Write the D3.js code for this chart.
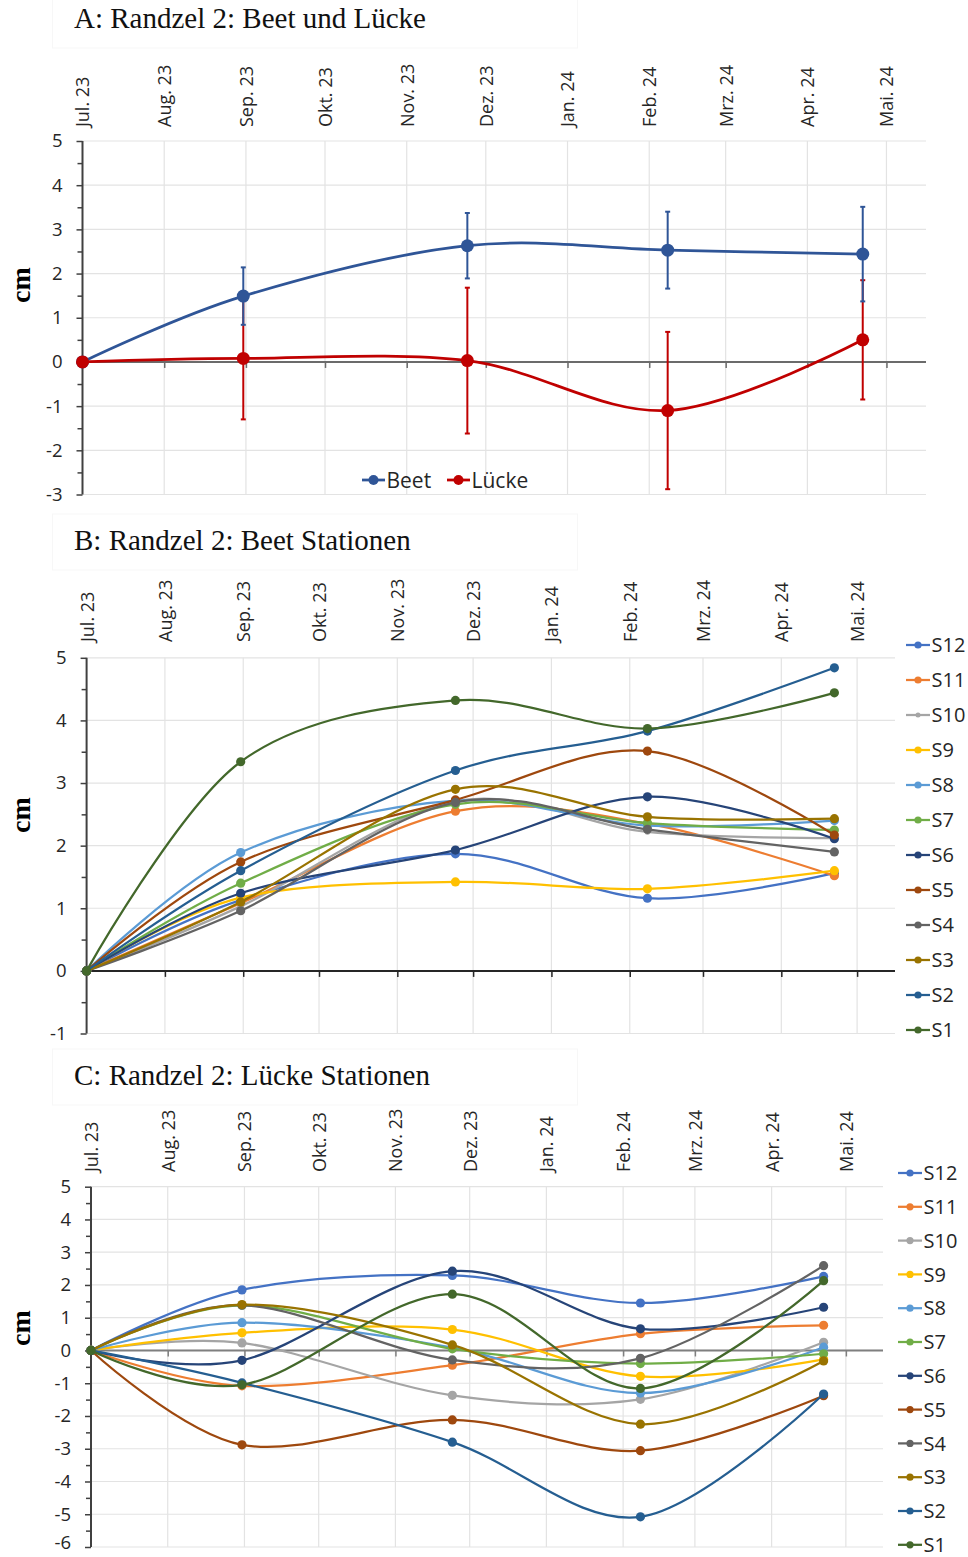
<!DOCTYPE html>
<html>
<head>
<meta charset="utf-8">
<script src="https://cdn.jsdelivr.net/npm/d3@7"></script>
<style>
  html, body { margin: 0; padding: 0; background: #fff; }
  svg { display: block; }
</style>
</head>
<body>
<svg id="chart" width="968" height="1557"></svg>
<script>
// ---------------- DATA ----------------
const measureDates = ["2023-07-01", "2023-08-31", "2023-11-24", "2024-02-08", "2024-04-22"];
const monthTickLabels = ["Jul. 23", "Aug. 23", "Sep. 23", "Okt. 23", "Nov. 23", "Dez. 23",
                         "Jan. 24", "Feb. 24", "Mrz. 24", "Apr. 24", "Mai. 24"];
const axisStart = "2023-07-01";
const axisEnd = "2024-05-16";

// Panel A
const beetMean   = [0, 1.49, 2.63, 2.53, 2.44];
const beetErr    = [0, 0.65, 0.74, 0.87, 1.07];
const lueckeMean = [0, 0.08, 0.03, -1.10, 0.50];
const lueckeErr  = [0, 1.38, 1.65, 1.78, 1.35];
const yTicksA = [-3, -2, -1, 0, 1, 2, 3, 4, 5];

// Stations (legend order, top to bottom)
const stations = ["S12", "S11", "S10", "S9", "S8", "S7", "S6", "S5", "S4", "S3", "S2", "S1"];
const stationColors = ["#4472C4", "#ED7D31", "#A5A5A5", "#FFC000", "#5B9BD5", "#70AD47",
                       "#264478", "#9E480E", "#636363", "#997300", "#255E91", "#43682B"];

// Panel B: Beet Stationen
const beetS12 = [0, 1.13, 1.87, 1.16, 1.56];
const beetS11 = [0, 1.08, 2.55, 2.35, 1.52];
const beetS10 = [0, 1.03, 2.71, 2.22, 2.12];
const beetS9  = [0, 1.17, 1.42, 1.31, 1.60];
const beetS8  = [0, 1.89, 2.72, 2.32, 2.40];
const beetS7  = [0, 1.40, 2.66, 2.36, 2.25];
const beetS6  = [0, 1.24, 1.93, 2.78, 2.11];
const beetS5  = [0, 1.74, 2.73, 3.51, 2.17];
const beetS4  = [0, 0.96, 2.69, 2.26, 1.90];
const beetS3  = [0, 1.10, 2.90, 2.46, 2.43];
const beetS2  = [0, 1.60, 3.20, 3.83, 4.84];
const beetS1  = [0, 3.34, 4.32, 3.87, 4.44];
const yTicksB = [-1, 0, 1, 2, 3, 4, 5];

// Panel C: Lücke Stationen
const lueckeS12 = [0, 1.85, 2.29, 1.45, 2.26];
const lueckeS11 = [0, -1.08, -0.45, 0.51, 0.77];
const lueckeS10 = [0, 0.23, -1.37, -1.49, 0.25];
const lueckeS9  = [0, 0.54, 0.64, -0.79, -0.27];
const lueckeS8  = [0, 0.85, 0.09, -1.30, 0.10];
const lueckeS7  = [0, 1.38, 0.05, -0.40, -0.10];
const lueckeS6  = [0, -0.30, 2.42, 0.66, 1.32];
const lueckeS5  = [0, -2.88, -2.12, -3.06, -1.38];
const lueckeS4  = [0, 1.38, -0.29, -0.24, 2.59];
const lueckeS3  = [0, 1.40, 0.17, -2.25, -0.32];
const lueckeS2  = [0, -0.99, -2.80, -5.08, -1.33];
const lueckeS1  = [0, -1.05, 1.72, -1.16, 2.13];
const yTicksC = [-6, -5, -4, -3, -2, -1, 0, 1, 2, 3, 4, 5];

const beetStationValues = [beetS12, beetS11, beetS10, beetS9, beetS8, beetS7, beetS6, beetS5, beetS4, beetS3, beetS2, beetS1];
const lueckeStationValues = [lueckeS12, lueckeS11, lueckeS10, lueckeS9, lueckeS8, lueckeS7, lueckeS6, lueckeS5, lueckeS4, lueckeS3, lueckeS2, lueckeS1];

// ---------------- HELPERS ----------------
const parse = d3.utcParse("%Y-%m-%d");
const dates = measureDates.map(parse);
const monthTicks = d3.utcMonth.range(parse(axisStart), d3.utcDay.offset(parse("2024-05-01"), 1));
const svg = d3.select("#chart");
const SANS = "'Open Sans', 'DejaVu Sans', sans-serif";
const SERIF = "'Liberation Serif', 'Times New Roman', serif";
const curve = d3.curveCardinal.tension(0);

function panel(cfg) {
  const g = svg.append("g");
  const x = d3.scaleUtc().domain([parse(axisStart), parse(axisEnd)]).range([cfg.left, cfg.right]);
  const y = d3.scaleLinear().domain(cfg.yDomain).range([cfg.yBottom, cfg.yTop]);

  // faint title box
  g.append("rect").attr("x", 52.5).attr("y", cfg.titleY - 36).attr("width", 525).attr("height", 56)
    .attr("fill", "none").attr("stroke", "#f7f7f7").attr("stroke-width", 1);

  // title
  g.append("text").attr("x", 74).attr("y", cfg.titleY)
    .attr("font-family", SERIF).attr("font-size", 29).attr("fill", "#111")
    .text(cfg.title);

  // y title
  g.append("text")
    .attr("transform", `translate(20,${cfg.cmY}) rotate(-90)`)
    .attr("text-anchor", "middle").attr("dominant-baseline", "central")
    .attr("font-family", SERIF).attr("font-weight", "bold").attr("font-size", 28)
    .attr("fill", "#000").text("cm");

  // gridlines
  const grid = g.append("g");
  grid.selectAll("line.h").data(cfg.yTicks).join("line")
    .attr("x1", cfg.left).attr("x2", cfg.right)
    .attr("y1", d => y(d)).attr("y2", d => y(d))
    .attr("stroke", "#e3e3e3").attr("stroke-width", 1.2);
  grid.selectAll("line.v").data(monthTicks.slice(1)).join("line")
    .attr("x1", d => x(d)).attr("x2", d => x(d))
    .attr("y1", y(cfg.yDomain[1])).attr("y2", y(cfg.yDomain[0]))
    .attr("stroke", "#e3e3e3").attr("stroke-width", 1.2);

  // top month labels
  const topAxis = g.append("g").attr("transform", `translate(0,${cfg.labelsBottom})`)
    .call(d3.axisTop(x).tickValues(monthTicks).tickSize(0).tickFormat((d, i) => monthTickLabels[i]));
  topAxis.select(".domain").remove();
  topAxis.selectAll("text")
    .attr("transform", "rotate(-90)")
    .attr("x", 0).attr("y", 0).attr("dy", "0.36em")
    .attr("text-anchor", "start")
    .attr("font-family", SANS).attr("font-size", 18).attr("fill", "#262626");

  // zero line with ticks
  const zeroAxis = g.append("g").attr("transform", `translate(0,${y(0)})`)
    .call(d3.axisBottom(x).tickValues(monthTicks.slice(1)).tickSize(6).tickFormat(""));
  zeroAxis.select(".domain").attr("d", `M${cfg.left},0H${cfg.right}`)
    .attr("stroke", cfg.zeroColor).attr("stroke-width", 2);
  zeroAxis.selectAll(".tick line").attr("stroke", cfg.zeroColor).attr("stroke-width", 1.5);

  // y axis
  const yAxis = g.append("g").attr("transform", `translate(${cfg.left},0)`)
    .call(d3.axisLeft(y).tickValues(cfg.yTicks).tickSize(6).tickPadding(14).tickFormat(d => String(d)));
  yAxis.select(".domain").attr("d", `M0,${y(cfg.yDomain[1])}V${y(cfg.yDomain[0])}`)
    .attr("stroke", "#404040").attr("stroke-width", 2);
  yAxis.selectAll(".tick line").attr("stroke", "#404040").attr("stroke-width", 1.5);
  yAxis.selectAll("text").attr("font-family", SANS).attr("font-size", 18.5).attr("fill", "#262626");
  // keep the lowest label inside the page
  yAxis.selectAll(".tick text").filter(d => d === cfg.yDomain[0]).attr("dy", cfg.bottomLabelDy || "0.32em");
  const halves = cfg.yTicks.slice(0, -1).map(d => d + 0.5);
  const minor = g.append("g").attr("transform", `translate(${cfg.left},0)`)
    .call(d3.axisLeft(y).tickValues(halves).tickSize(5).tickFormat(""));
  minor.select(".domain").remove();
  minor.selectAll(".tick line").attr("stroke", "#404040").attr("stroke-width", 1.5);

  return { g, x, y };
}

// ---------------- PANEL A ----------------
(function () {
  const { g, x, y } = panel({
    title: "A: Randzel 2: Beet und Lücke", titleY: 28, cmY: 285,
    left: 82.5, right: 926, yTop: 141, yBottom: 494.5, yDomain: [-3, 5],
    yTicks: yTicksA, labelsBottom: 127, zeroColor: "#6b6b6b"
  });
  const series = [
    { name: "Beet", mean: beetMean, err: beetErr, color: "#2F5597" },
    { name: "Lücke", mean: lueckeMean, err: lueckeErr, color: "#C00000" }
  ];
  const line = d3.line().x(d => x(d.date)).y(d => y(d.v)).curve(curve);
  // error bars (drawn beneath lines)
  series.slice().reverse().forEach(s => {
    const pts = dates.map((d, i) => ({ date: d, v: s.mean[i], e: s.err[i] })).filter(p => p.e > 0);
    const eg = g.append("g").attr("stroke", s.color).attr("stroke-width", 2);
    eg.selectAll("line.bar").data(pts).join("line")
      .attr("x1", p => x(p.date)).attr("x2", p => x(p.date))
      .attr("y1", p => y(p.v + p.e)).attr("y2", p => y(p.v - p.e));
    eg.selectAll("line.capT").data(pts).join("line")
      .attr("x1", p => x(p.date) - 2.5).attr("x2", p => x(p.date) + 2.5)
      .attr("y1", p => y(p.v + p.e)).attr("y2", p => y(p.v + p.e));
    eg.selectAll("line.capB").data(pts).join("line")
      .attr("x1", p => x(p.date) - 2.5).attr("x2", p => x(p.date) + 2.5)
      .attr("y1", p => y(p.v - p.e)).attr("y2", p => y(p.v - p.e));
  });
  series.forEach(s => {
    const pts = dates.map((d, i) => ({ date: d, v: s.mean[i] }));
    g.append("path").datum(pts).attr("d", line)
      .attr("fill", "none").attr("stroke", s.color).attr("stroke-width", 2.75);
    g.selectAll(null).data(pts).join("circle")
      .attr("cx", p => x(p.date)).attr("cy", p => y(p.v)).attr("r", 6.5)
      .attr("fill", s.color);
  });
  // legend
  const legendItems = [
    { name: "Beet", color: "#2F5597", x0: 362 },
    { name: "Lücke", color: "#C00000", x0: 447 }
  ];
  legendItems.forEach(it => {
    const lg = g.append("g").attr("transform", `translate(${it.x0},480)`);
    lg.append("line").attr("x1", 0).attr("x2", 23).attr("y1", 0).attr("y2", 0)
      .attr("stroke", it.color).attr("stroke-width", 2.75);
    lg.append("circle").attr("cx", 11.5).attr("cy", 0).attr("r", 5).attr("fill", it.color);
    lg.append("text").attr("x", 24.5).attr("y", 0).attr("dy", "0.36em")
      .attr("font-family", SANS).attr("font-size", 21).attr("fill", "#262626").text(it.name);
  });
})();

// ---------------- STATION PANELS ----------------
function stationPanel(cfg, values) {
  const { g, x, y } = panel(cfg);
  const line = d3.line().x(d => x(d.date)).y(d => y(d.v)).curve(curve);
  values.forEach((vals, i) => {
    const pts = dates.map((d, k) => ({ date: d, v: vals[k] }));
    const color = stationColors[i];
    const r = (cfg.smallMarker === stations[i]) ? 3 : 4.6;
    g.append("path").datum(pts).attr("d", line)
      .attr("fill", "none").attr("stroke", color).attr("stroke-width", 2.25);
    g.selectAll(null).data(pts).join("circle")
      .attr("cx", p => x(p.date)).attr("cy", p => y(p.v)).attr("r", r)
      .attr("fill", color);
  });
  // legend
  const lg = g.append("g");
  stations.forEach((s, i) => {
    const row = lg.append("g").attr("transform", `translate(${cfg.legX},${cfg.legY0 + i * cfg.legStep})`);
    row.append("line").attr("x1", 0).attr("x2", 24).attr("y1", 0).attr("y2", 0)
      .attr("stroke", stationColors[i]).attr("stroke-width", 2.25);
    row.append("circle").attr("cx", 12).attr("cy", 0)
      .attr("r", (cfg.smallMarker === s) ? 2.5 : 3.6).attr("fill", stationColors[i]);
    row.append("text").attr("x", 25.5).attr("y", 0).attr("dy", "0.36em")
      .attr("font-family", SANS).attr("font-size", 20).attr("fill", "#262626").text(s);
  });
}

stationPanel({
  title: "B: Randzel 2: Beet Stationen", titleY: 550, cmY: 815,
  left: 86.6, right: 895, yTop: 657.8, yBottom: 1033.5, yDomain: [-1, 5],
  yTicks: yTicksB, labelsBottom: 642, zeroColor: "#262626",
  legX: 906, legY0: 645, legStep: 35, smallMarker: "S10"
}, beetStationValues);

stationPanel({
  title: "C: Randzel 2: Lücke Stationen", titleY: 1085, cmY: 1328,
  left: 91, right: 883, yTop: 1186.7, yBottom: 1547, yDomain: [-6, 5],
  yTicks: yTicksC, labelsBottom: 1172, zeroColor: "#7f7f7f",
  legX: 898, legY0: 1173, legStep: 33.8, smallMarker: null, bottomLabelDy: "0.1em"
}, lueckeStationValues);
</script>
</body>
</html>
